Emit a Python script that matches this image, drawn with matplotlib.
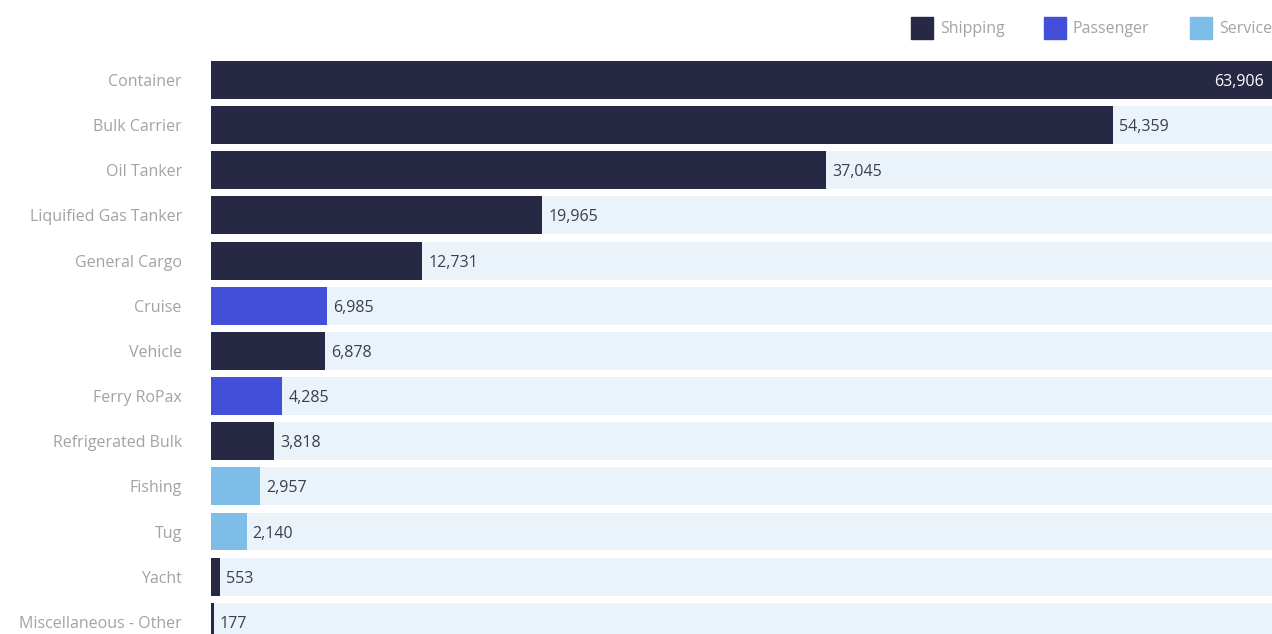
import matplotlib.pyplot as plt
from matplotlib.patches import Rectangle
from matplotlib.transforms import offset_copy

plt.rcParams['font.family'] = ['Open Sans', 'DejaVu Sans']

categories = ['Container', 'Bulk Carrier', 'Oil Tanker', 'Liquified Gas Tanker',
              'General Cargo', 'Cruise', 'Vehicle', 'Ferry RoPax', 'Refrigerated Bulk',
              'Fishing', 'Tug', 'Yacht', 'Miscellaneous - Other']
values = [63906, 54359, 37045, 19965, 12731, 6985, 6878, 4285, 3818, 2957, 2140, 553, 177]
groups = ['Shipping', 'Shipping', 'Shipping', 'Shipping', 'Shipping', 'Passenger',
          'Shipping', 'Passenger', 'Shipping', 'Services', 'Services', 'Shipping', 'Shipping']

colors = {'Shipping': '#272944', 'Passenger': '#444fd9', 'Services': '#7dbde8'}
track = '#eaf2fa'

W, H = 1272, 634
fig = plt.figure(figsize=(W / 100, H / 100), dpi=100)
ax = fig.add_axes([211 / W, 0, 1 - 211 / W, 1])

y = list(range(len(categories)))
vmax = max(values)
ax.barh(y, [vmax] * len(y), height=0.84, color=track, zorder=1)
ax.barh(y, values, height=0.84, color=[colors[g] for g in groups], zorder=2)

ax.set_xlim(0, vmax)
ax.set_ylim(12.27, -1.772)
ax.set_yticks(y)
ax.set_yticklabels(categories, fontsize=11.5, color='#a3a3a3')
ax.tick_params(axis='y', length=0, pad=21)
ax.set_xticks([])
for s in ax.spines.values():
    s.set_visible(False)

for i, v in enumerate(values):
    txt = f'{v:,}'
    if v == vmax:
        tr = offset_copy(ax.transData, fig=fig, x=-8, y=-2, units='dots')
        ax.text(v, i, txt, transform=tr, ha='right', va='center',
                fontsize=11.5, color='white', zorder=3)
    else:
        tr = offset_copy(ax.transData, fig=fig, x=6, y=-2, units='dots')
        ax.text(v, i, txt, transform=tr, ha='left', va='center',
                fontsize=11.5, color='#3d3f4f', zorder=3)

# legend along the top edge
legend_items = [('Shipping', 911), ('Passenger', 1044), ('Services', 1190)]
for name, px in legend_items:
    fig.patches.append(Rectangle((px / W, 1 - 39 / H), 22 / W, 22 / H,
                                 transform=fig.transFigure, color=colors[name]))
    fig.text((px + 29) / W, 1 - 29 / H, name, ha='left', va='center',
             fontsize=11.5, color='#a3a3a3')

fig.savefig('out.png', dpi=100)
